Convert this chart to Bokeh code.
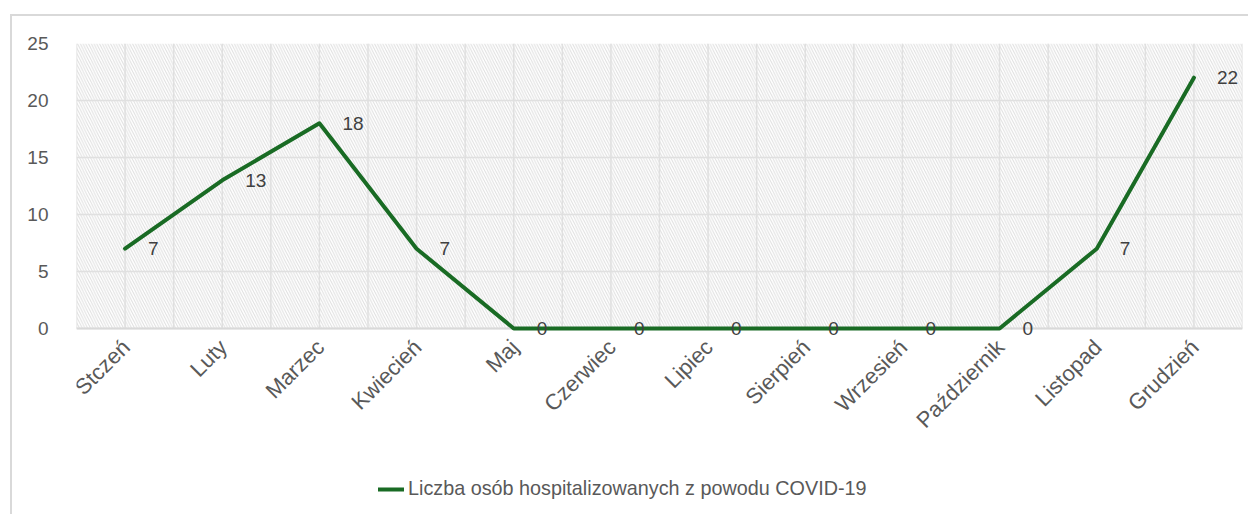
from bokeh.plotting import figure
from bokeh.models import (Range1d, FixedTicker, BoxAnnotation, LabelSet, ColumnDataSource,
                          Legend, LegendItem, Span)
from bokeh.core.properties import value
from bokeh.embed import file_html
from bokeh.resources import INLINE
import math

months = ["Stczeń", "Luty", "Marzec", "Kwiecień", "Maj", "Czerwiec", "Lipiec",
          "Sierpień", "Wrzesień", "Październik", "Listopad", "Grudzień"]
values = [7, 13, 18, 7, 0, 0, 0, 0, 0, 0, 7, 22]
series_name = "Liczba osób hospitalizowanych z powodu COVID-19"
y_ticks = [0, 5, 10, 15, 20, 25]

FONT = "Liberation Sans"
LINE_COLOR = "#196B24"
GRID = "#e0e0e0"

# layout in pixels
CANVAS_W, CANVAS_H = 1238, 500
BORDER_L, BORDER_T, BORDER_R, BORDER_B = 64, 27, 8, 6
PLOT_AREA_H = 285                    # height of the 0..25 area
frame_h = CANVAS_H - BORDER_T - BORDER_B

n = len(months)
x_idx = list(range(n))
y_min, y_max = y_ticks[0], y_ticks[-1]
units_per_px = (y_max - y_min) / PLOT_AREA_H
y_start = y_max - frame_h * units_per_px   # room below the axis for labels + legend

src = ColumnDataSource(dict(x=x_idx, y=values, lab=[str(v) for v in values]))
msrc = ColumnDataSource(dict(x=x_idx, y=[y_min] * n, name=months))

p = figure(width=CANVAS_W, height=CANVAS_H, output_backend="svg", toolbar_location=None,
           x_range=Range1d(-0.5, n - 0.5), y_range=Range1d(y_start, y_max),
           min_border_left=BORDER_L, min_border_top=BORDER_T,
           min_border_right=BORDER_R, min_border_bottom=BORDER_B)
p.styles = {"border-left": "2px solid #d9d9d9", "border-top": "2px solid #d9d9d9",
            "margin-left": "10px", "margin-top": "14px"}
p.outline_line_color = None
p.background_fill_color = "white"
p.border_fill_color = "white"

# hatched plot area (between 0 and 25)
p.add_layout(BoxAnnotation(bottom=y_min, top=y_max, fill_alpha=0, line_color=None,
                           hatch_pattern="\\", hatch_color="#dedede", hatch_scale=5.5,
                           hatch_weight=1, level="image"))

# grid lines over the plot area only
gx = [i * 0.5 - 0.5 for i in range(2 * n + 1)]
p.segment(x0=gx, y0=[y_min] * len(gx), x1=gx, y1=[y_max] * len(gx),
          line_color=GRID, line_width=1.5, level="underlay")
p.xgrid.visible = False
p.ygrid.ticker = FixedTicker(ticks=y_ticks)
p.ygrid.grid_line_color = GRID
p.ygrid.grid_line_width = 1.5
p.add_layout(Span(location=y_min, dimension="width", line_color="#d9d9d9", line_width=2,
                  level="underlay"))

# axes
p.xaxis.visible = False
p.yaxis.ticker = FixedTicker(ticks=y_ticks)
p.yaxis.axis_line_color = None
p.yaxis.major_tick_line_color = None
p.yaxis.minor_tick_line_color = None
p.yaxis.major_label_standoff = 22
p.yaxis.major_label_text_font = FONT
p.yaxis.major_label_text_font_size = "19px"
p.yaxis.major_label_text_color = "#595959"

# category labels (rotated 45°)
p.add_layout(LabelSet(x="x", y="y", text="name", source=msrc, angle=math.pi / 4,
                      x_offset=1, y_offset=-15, text_align="right", text_baseline="middle",
                      text_font=value(FONT), text_font_size=value("22px"),
                      text_color="#595959"))

r = p.line("x", "y", source=src, line_color=LINE_COLOR, line_width=4,
           line_join="round", line_cap="round")

p.add_layout(LabelSet(x="x", y="y", text="lab", source=src, x_offset=23, text_align="left",
                      text_baseline="middle", text_font=value(FONT),
                      text_font_size=value("19px"), text_color="#404040"))

legend = Legend(items=[LegendItem(label=series_name, renderers=[r])],
                location=(302, 10), orientation="horizontal",
                padding=0, margin=0, border_line_color=None, background_fill_alpha=0,
                glyph_width=26, glyph_height=20, label_height=20, label_standoff=4,
                label_text_font=FONT, label_text_font_size="19.8px", label_text_color="#595959")
p.add_layout(legend)

open("out.html", "w").write(file_html(p, INLINE))
